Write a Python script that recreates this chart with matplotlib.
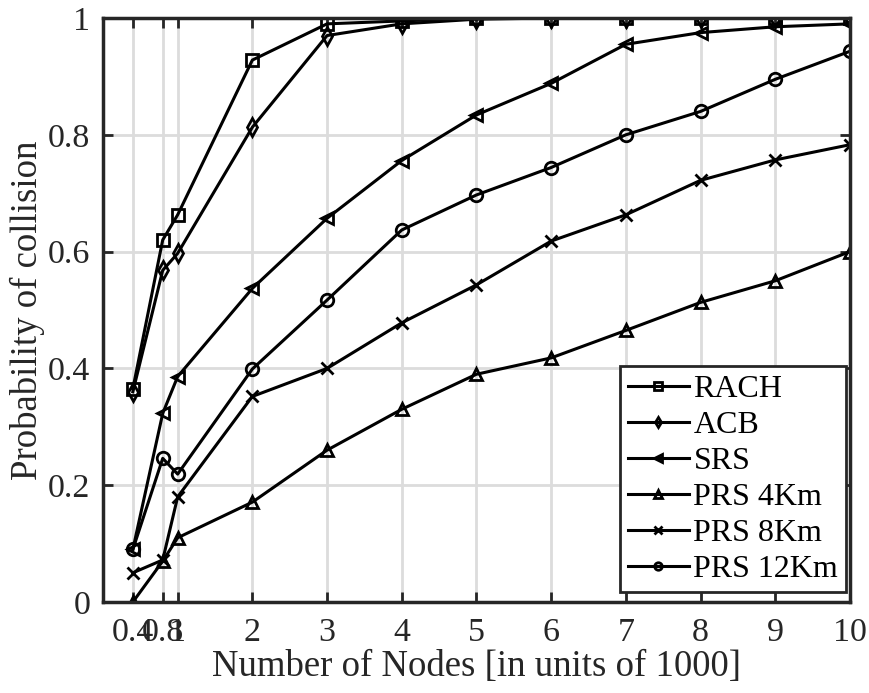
import numpy as np
import matplotlib.pyplot as plt

plt.rcParams['font.family'] = ['Liberation Serif', 'DejaVu Serif']

# Number of nodes (in units of 1000)
nodes = [0.4, 0.8, 1, 2, 3, 4, 5, 6, 7, 8, 9, 10]

rach = [0.365, 0.62, 0.663, 0.928, 0.99, 0.995, 1.0, 1.0, 1.0, 1.0, 1.0, 1.0]
acb = [0.36, 0.568, 0.597, 0.813, 0.97, 0.99, 0.998, 1.0, 1.0, 1.0, 1.0, 1.0]
srs = [0.09, 0.323, 0.386, 0.537, 0.657, 0.756, 0.834, 0.888, 0.955, 0.975, 0.985, 0.99]
prs_4km = [0.0, 0.07, 0.11, 0.171, 0.26, 0.33, 0.39, 0.418, 0.465, 0.513, 0.55, 0.60]
prs_8km = [0.05, 0.072, 0.18, 0.352, 0.40, 0.478, 0.543, 0.618, 0.663, 0.722, 0.757, 0.783]
prs_12km = [0.09, 0.246, 0.219, 0.399, 0.517, 0.637, 0.697, 0.744, 0.80, 0.84, 0.895, 0.943]

series = [
    ("RACH", rach, "s"),
    ("ACB", acb, "d"),
    ("SRS", srs, "<"),
    ("PRS 4Km", prs_4km, "^"),
    ("PRS 8Km", prs_8km, "x"),
    ("PRS 12Km", prs_12km, "o"),
]

xticks = [0.4, 0.8, 1, 2, 3, 4, 5, 6, 7, 8, 9, 10]
xticklabels = ["0.4", "0.8", "1", "2", "3", "4", "5", "6", "7", "8", "9", "10"]
yticks = [0, 0.2, 0.4, 0.6, 0.8, 1]
yticklabels = ["0", "0.2", "0.4", "0.6", "0.8", "1"]

dark = "#262626"

fig = plt.figure(figsize=(8.69, 6.93), dpi=100)
ax = fig.add_axes([0.1185, 0.1313, 0.8595, 0.8427])

for name, vals, m in series:
    ax.plot(nodes, vals, color="black", linewidth=2.2, marker=m,
            markersize=9, markerfacecolor="none", markeredgewidth=2,
            label=name)

ax.set_xlim(0, 10)
ax.set_ylim(0, 1)
ax.set_xticks(xticks)
ax.set_xticklabels(xticklabels)
ax.set_yticks(yticks)
ax.set_yticklabels(yticklabels)
ax.grid(True, color="#dcdcdc", linewidth=2)
ax.set_axisbelow(True)
ax.tick_params(direction="in", length=7, width=2, labelsize=24.5,
               top=True, right=True, colors=dark, labelcolor=dark)
ax.tick_params(axis="x", pad=11)
ax.tick_params(axis="y", pad=9)
for sp in ax.spines.values():
    sp.set_linewidth(2.5)
    sp.set_color(dark)

ax.set_xlabel("Number of Nodes [in units of 1000]", fontsize=26.5, color=dark, labelpad=1)
ax.set_ylabel("Probability of collision", fontsize=26.5, color=dark, labelpad=2)

leg = ax.legend(loc="lower right", bbox_to_anchor=(0.995, 0.017), fontsize=23,
                frameon=True, fancybox=False, framealpha=1, edgecolor=dark,
                handlelength=1.9, handletextpad=0.15, markerscale=0.6,
                borderpad=0.25, labelspacing=0.21, borderaxespad=0)
leg.get_frame().set_linewidth(2)

fig.savefig("out.png", dpi=100)
